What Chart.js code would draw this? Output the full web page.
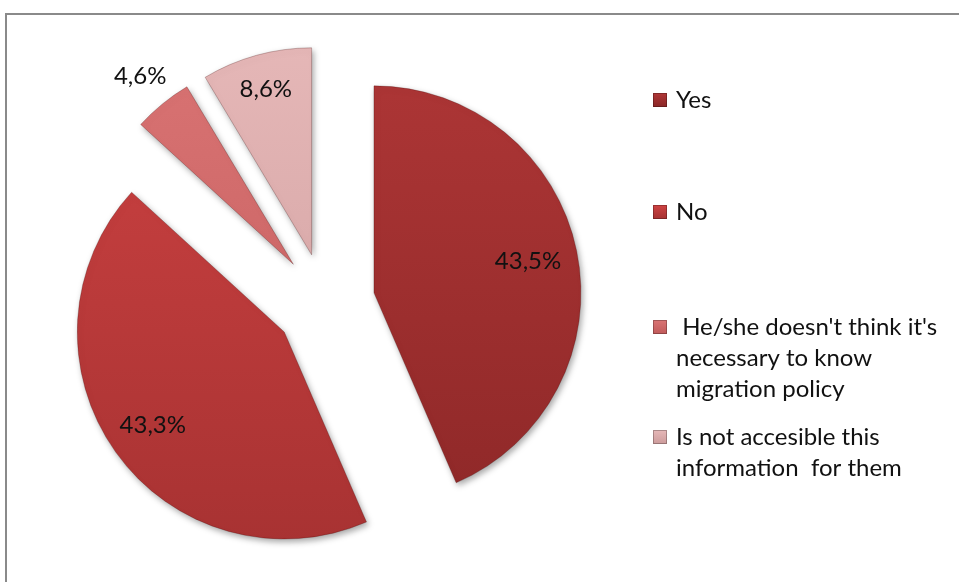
<!DOCTYPE html>
<html>
<head>
<meta charset="utf-8">
<script src="https://cdn.jsdelivr.net/npm/chart.js@4/dist/chart.umd.min.js"></script>
<style>
  html, body { margin: 0; padding: 0; background: #fff; overflow: hidden; }
  #frame {
    position: absolute; left: 5px; top: 13px;
    width: 1000px; height: 620px;
    border-left: 2px solid #8a8a8a; border-top: 2px solid #8a8a8a;
  }
  #wrap { position: absolute; left: 0; top: 0; width: 959px; height: 582px; }
</style>
</head>
<body>
<div id="frame"></div>
<div id="wrap"><canvas id="chart" width="959" height="582"></canvas></div>
<script>
// Answers and their shares (%)
const categories = [
    "Yes",
    "No",
    [" He/she doesn't think it's", "necessary to know", "migration policy"],
    ["Is not accesible this", "information  for them"]
];
const shares = [43.5, 43.3, 4.6, 8.6];

// light / dark shade for each slice
const lightColors = ["#b03737", "#cf4343", "#da7474", "#e6b8b8"];
const darkColors = ["#8a2626", "#a53131", "#c05a5a", "#cc9b9b"];

const FONT = "Lato, 'Open Sans', sans-serif";

function sliceFill(ctx) {
    const i = ctx.dataIndex;
    const area = ctx.chart.chartArea;
    if (!area) return lightColors[i];
    const g = ctx.chart.ctx.createLinearGradient(0, area.top, 0, area.bottom);
    g.addColorStop(0, lightColors[i]);
    g.addColorStop(1, darkColors[i]);
    return g;
}

function formatShare(v) {
    return v.toFixed(1).replace(".", ",") + "%";
}

// pull every slice out by the same distance along its middle angle
// (the built-in offset also grows the radius of some slices)
const explode = {
    id: "explode",
    afterDatasetUpdate(chart, args, opts) {
        args.meta.data.forEach(arc => {
            const mid = (arc.startAngle + arc.endAngle) / 2;
            arc.x += Math.cos(mid) * opts.distance;
            arc.y += Math.sin(mid) * opts.distance;
        });
    }
};

// soft drop shadow under the slices
const sliceShadow = {
    id: "sliceShadow",
    beforeDatasetsDraw(chart) {
        const c = chart.ctx;
        c.save();
        c.shadowColor = "rgba(0,0,0,0.35)";
        c.shadowBlur = 6;
        c.shadowOffsetX = 2;
        c.shadowOffsetY = 3;
    },
    afterDatasetsDraw(chart) {
        chart.ctx.restore();
    }
};

// percentage labels placed along each slice's middle angle
const shareLabels = {
    id: "shareLabels",
    afterDatasetsDraw(chart, args, opts) {
        const c = chart.ctx;
        const meta = chart.getDatasetMeta(0);
        c.save();
        c.font = opts.font;
        c.fillStyle = "#111";
        c.textAlign = "center";
        c.textBaseline = "middle";
        meta.data.forEach((arc, i) => {
            const mid = (arc.startAngle + arc.endAngle) / 2;
            const r = arc.outerRadius * opts.radius[i];
            c.fillText(formatShare(shares[i]), arc.x + Math.cos(mid) * r, arc.y + Math.sin(mid) * r);
        });
        c.restore();
    }
};

// legend on the right with wrapped entries
const sideLegend = {
    id: "sideLegend",
    afterDraw(chart, args, opts) {
        const c = chart.ctx;
        c.save();
        c.font = opts.font;
        c.textBaseline = "middle";
        chart.data.labels.forEach((label, i) => {
            const lines = Array.isArray(label) ? label : [label];
            const y = opts.top[i];
            const box = 14;
            const g = c.createLinearGradient(0, y - box / 2, 0, y + box / 2);
            g.addColorStop(0, lightColors[i]);
            g.addColorStop(1, darkColors[i]);
            c.fillStyle = g;
            c.fillRect(opts.x, y - box / 2, box, box);
            c.strokeStyle = "rgba(0,0,0,0.25)";
            c.lineWidth = 1;
            c.strokeRect(opts.x + 0.5, y - box / 2 + 0.5, box - 1, box - 1);
            c.fillStyle = "#111";
            lines.forEach((line, k) => {
                c.fillText(line, opts.x + 23, y + k * opts.lineHeight);
            });
        });
        c.restore();
    }
};

const ctx = document.getElementById("chart").getContext("2d");

new Chart(ctx, {
    type: "pie",
    data: {
        labels: categories,
        datasets: [{
            data: shares,
            backgroundColor: sliceFill,
            borderColor: "rgba(60,0,0,0.25)",
            borderWidth: 1,
            radius: 207
        }]
    },
    options: {
        responsive: false,
        animation: false,
        layout: { padding: { left: 0, right: 309, top: 24, bottom: 0 } },
        plugins: {
            legend: { display: false },
            tooltip: { enabled: false },
            explode: { distance: 50 },
            shareLabels: { font: "24px " + FONT, radius: [0.76, 0.78, 1.17, 0.83] },
            sideLegend: { font: "24px " + FONT, x: 653, top: [100, 212, 327, 437], lineHeight: 31 }
        }
    },
    plugins: [explode, sliceShadow, shareLabels, sideLegend]
});
</script>
</body>
</html>
